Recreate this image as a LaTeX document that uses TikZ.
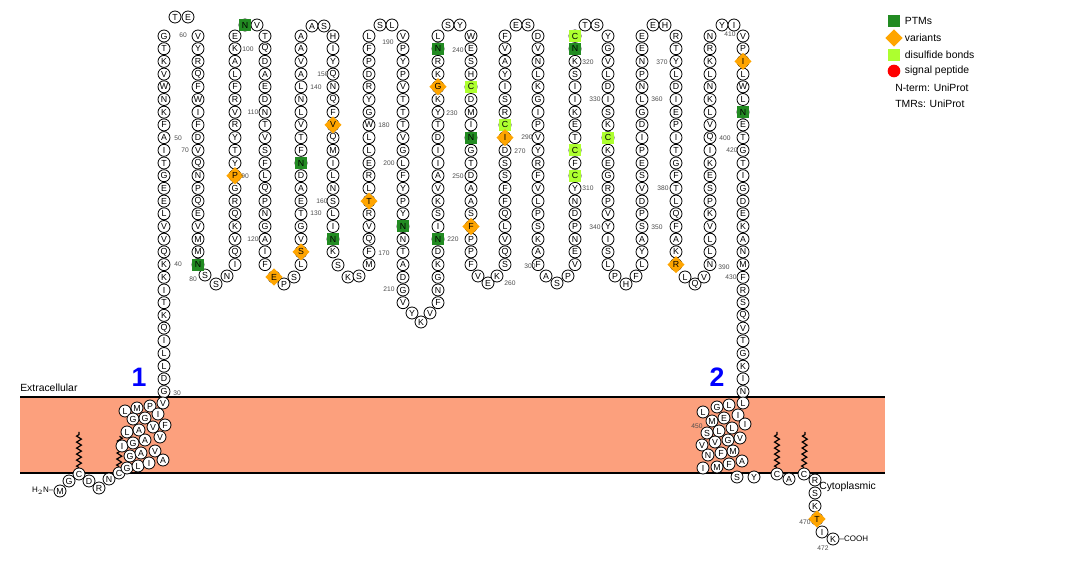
\documentclass[tikz,border=0pt]{standalone}
\usepackage{fontspec}
\setmainfont{Liberation Sans}
\usetikzlibrary{shapes.geometric,decorations.pathmorphing,positioning}
\pgfdeclarelayer{background1}
\pgfdeclarelayer{background2}
\pgfsetlayers{background2,background1,main}

% one column of residues, top to bottom
\newcommand{\rescol}[4]{%
	\foreach \a [count=\i from 0] in {#4} {\node[res] (#1-\i) at (#2,{36+(\i+#3)*12.7}) {\a};}}

\begin{document}
\begin{tikzpicture}[x=0.75pt,y=-0.75pt,
	res/.style={circle,draw,line width=0.6pt,fill=white,inner sep=0pt,minimum size=9pt,font=\fontsize{6.6}{6.6}\selectfont},
	ptm/.style={rectangle,fill=ptmcolor,inner sep=0pt,minimum size=9pt,font=\fontsize{6.6}{6.6}\selectfont},
	dis/.style={ptm,fill=discolor},
	var/.style={diamond,fill=varcolor,inner sep=0pt,minimum size=13pt,font=\fontsize{6.6}{6.6}\selectfont},
	num/.style={text=black!70,font=\fontsize{5}{5}\selectfont,inner sep=0pt},
	lbl/.style={font=\fontsize{7.8}{8}\selectfont,inner sep=0pt},
	palm/.style={line width=0.9pt,decorate,decoration={zigzag,segment length=4.5pt,amplitude=1.8pt}}]

	\definecolor{ptmcolor}{RGB}{34,139,34}
	\definecolor{varcolor}{RGB}{255,165,0}
	\definecolor{discolor}{RGB}{173,255,47}
	\definecolor{memcolor}{RGB}{252,160,125}
	\useasboundingbox (0,0) rectangle (1071,566);

	% membrane
	\begin{pgfonlayer}{background2}
		\fill[memcolor] (20,397) rectangle (885,473);
		\draw[line width=1.6pt] (20,397) -- (885,397);
		\draw[line width=1.6pt] (20,473) -- (885,473);
	\end{pgfonlayer}
	\node[lbl,anchor=south west] (extra) at (20,392) {Extracellular};
	\node[text=blue,font=\bfseries\fontsize{20}{20}\selectfont] (tm1) at (139,377) {1};
	\node[text=blue,font=\bfseries\fontsize{20}{20}\selectfont] (tm2) at (717,377) {2};

	% palmitoyl chains
	\coordinate (s1) at (79,432); \coordinate (s2) at (120,436);
	\coordinate (s3) at (777,432); \coordinate (s4) at (805,432);

	% columns
	\rescol{c1}{164}{0}{G,T,K,V,W,N,K,F,A,I,T,G,E,E,L,V,V,Q,K,K,I,T,K,Q,I,L,L,D,G}
	\rescol{c2}{198}{0}{V,Y,R,Q,F,W,I,F,D,V,Q,N,P,Q,E,V,M,M,N}
	\rescol{c3}{235}{0}{E,K,A,L,F,R,V,R,Y,T,Y,P,G,R,Q,K,V,Q,I}
	\rescol{c4}{265}{0}{T,Q,D,A,E,D,N,T,V,S,F,L,Q,P,N,G,A,I,F}
	\rescol{c5}{301}{0}{A,A,V,A,L,N,L,V,T,F,N,D,A,E,T,G,V,S,L}
	\rescol{c6}{333}{0}{H,I,Y,Q,N,Q,F,V,Q,M,I,L,N,S,L,I,N,K}
	\rescol{c7}{369}{0}{L,F,P,D,R,Y,G,W,L,L,E,R,L,T,R,V,Q,F,M}
	\rescol{c8}{403}{0}{V,P,Y,P,V,T,T,T,V,G,L,F,Y,P,Y,N,N,T,A,D,G,V}
	\rescol{c9}{438}{0}{L,N,R,K,G,K,Y,T,D,I,I,A,V,K,S,I,N,D,K,G,N,F}
	\rescol{c10}{471}{0}{W,E,S,H,C,D,M,I,N,G,T,D,A,A,S,F,P,P,F}
	\rescol{c11}{505}{0}{F,V,A,Y,I,S,R,C,I,D,S,S,F,F,Q,L,V,Q,S}
	\rescol{c12}{538}{0}{D,V,N,L,K,G,I,P,V,Y,R,F,V,L,P,S,K,A,F}
	\rescol{c13}{575}{0}{C,N,K,S,I,I,K,E,T,C,F,C,Y,N,D,P,N,E,V}
	\rescol{c14}{608}{0}{Y,G,V,L,D,I,S,K,C,K,E,G,R,P,V,Y,I,S,L}
	\rescol{c15}{642}{0}{E,E,N,P,N,L,G,D,I,P,E,S,V,D,P,S,A,Y,L}
	\rescol{c16}{676}{0}{R,T,Y,L,D,I,E,P,I,T,G,F,T,L,Q,F,A,K,R}
	\rescol{c17}{710}{0}{N,R,K,L,N,K,L,V,Q,I,K,E,S,P,K,V,L,L,N}
	\rescol{c18}{743}{0}{V,P,I,L,W,L,N,E,T,G,T,I,G,D,E,K,A,N,M,F,R,S,Q,V,T,G,K,I,N}

	% loop turns
	\foreach \a/\x/\y [count=\i] in {T/175/17,E/188/17,N/245/25,V/257/25,A/312/26,S/324/26,
		S/380/25,L/392/25,S/448/25,Y/460/25,E/516/25,S/528/25,T/585/25,S/597/25,
		E/653/25,H/665/25,Y/722/25,I/734/25,
		S/205/275,S/216/284,N/227/276,E/274/277,P/284/284,S/294/277,
		S/338/265,K/348/277,S/359/276,Y/412/313,K/421/322,V/430/313,
		V/478/276,E/488/283,K/497/276,A/546/276,S/557/283,P/568/276,
		P/615/276,H/626/284,F/636/276,L/685/277,Q/695/284,V/704/277}
		{\node[res] (t\i) at (\x,\y) {\a};}

	% helix 1 and N-terminus
	\foreach \a/\x/\y [count=\i] in {M/60/491,G/69/481,C/79/474,D/89/481,R/99/488,N/109/479,C/119/473,
		L/125/411,M/137/408,P/150/406,V/163/403,G/133/419,G/145/418,I/158/414,
		L/127/432,A/139/430,V/153/427,F/165/425,I/122/446,G/133/443,A/145/440,V/160/437,
		G/130/456,A/141/453,V/155/451,G/127/468,L/138/466,I/149/463,A/163/460}
		{\node[res] (h\i) at (\x,\y) {\a};}

	% helix 2 and C-terminus
	\foreach \a/\x/\y [count=\i] in {L/743/403,L/729/405,G/717/407,L/703/412,I/738/415,E/724/418,M/712/421,
		I/745/424,L/732/428,L/719/431,S/707/433,V/740/438,G/728/440,V/715/442,V/702/445,
		M/733/451,F/721/453,N/708/455,A/742/461,F/729/464,M/717/467,I/703/468,
		S/737/477,Y/754/477,C/777/474,A/789/479,C/804/474,R/815/480,S/815/493,K/815/506,
		T/817/519,I/822/532,K/833/539}
		{\node[res] (k\i) at (\x,\y) {\a};}

	\begin{pgfonlayer}{background1}
		\draw[palm] (h3.north) -- (s1);
		\draw[palm] (h7.north) -- (s2);
		\draw[palm] (k25.north) -- (s3);
		\draw[palm] (k27.north) -- (s4);
	\end{pgfonlayer}

	\node[lbl,anchor=east,font=\fontsize{6}{6}\selectfont] (nterm) at (h1.west) {H$_2$N--};
	\node[lbl,anchor=west,font=\fontsize{6}{6}\selectfont] (cterm) at (k33.east) {--COOH};
	\node[lbl,anchor=west] (cyto) at (819,487) {Cytoplasmic};

	% features
	\node[ptm] (p1) at (c2-18) {N};
	\node[ptm] (p2) at (t3) {N};
	\node[ptm] (p3) at (c5-10) {N};
	\node[ptm] (p4) at (c6-16) {N};
	\node[ptm] (p5) at (c8-15) {N};
	\node[ptm] (p6) at (c9-1) {N};
	\node[ptm] (p7) at (c9-16) {N};
	\node[ptm] (p8) at (c10-8) {N};
	\node[ptm] (p9) at (c13-1) {N};
	\node[ptm] (p10) at (c18-6) {N};
	\node[dis] (d1) at (c10-4) {C};
	\node[dis] (d2) at (c11-7) {C};
	\node[dis] (d3) at (c13-0) {C};
	\node[dis] (d4) at (c13-9) {C};
	\node[dis] (d5) at (c13-11) {C};
	\node[dis] (d6) at (c14-8) {C};
	\node[var] (v1) at (c3-11) {P};
	\node[var] (v2) at (t22) {E};
	\node[var] (v3) at (c5-17) {S};
	\node[var] (v4) at (c6-7) {V};
	\node[var] (v5) at (c7-13) {T};
	\node[var] (v6) at (c9-4) {G};
	\node[var] (v7) at (c10-15) {F};
	\node[var] (v8) at (c11-8) {I};
	\node[var] (v9) at (c16-18) {R};
	\node[var] (v10) at (c18-2) {I};
	\node[var] (v11) at (k31) {T};

	% numbers
	\foreach \n/\x/\y [count=\i] in {30/177/393,40/178/264,50/178/138,60/183/35,70/185/150,80/193/279,
		90/245/176,100/248/49,110/253/112,120/253/239,130/316/213,140/316/87,150/323/74,160/322/201,
		170/384/253,180/384/125,190/388/42,200/389/163,210/389/289,220/453/239,230/452/113,
		240/458/50,250/458/176,260/510/283,270/520/151,290/527/137,300/530/266,310/588/188,
		320/588/62,330/595/99,340/595/227,350/657/227,360/657/99,370/662/62,380/663/188,
		390/724/267,400/725/138,410/730/34,420/732/150,430/731/277,450/697/426,470/805/522,472/823/548}
		{\node[num] (n\i) at (\x,\y) {\n};}

	% legend
	\node[ptm,minimum size=9pt] (lp) at (894,21) {};
	\node[var,minimum size=13pt] (lv) at (894,38) {};
	\node[dis,minimum size=9pt] (ld) at (894,55) {};
	\node[circle,fill=red,inner sep=0pt,minimum size=9.5pt] (ls) at (894,71) {};
	\node[lbl,right=8pt of lp.center] (lpt) {PTMs};
	\node[lbl,right=8pt of lv.center] (lvt) {variants};
	\node[lbl,right=8pt of ld.center] (ldt) {disulfide bonds};
	\node[lbl,right=8pt of ls.center] (lst) {signal peptide};
	\node[lbl,anchor=west] (lnt) at (895,88) {N-term: UniProt};
	\node[lbl,anchor=west] (ltm) at (895,104) {TMRs: UniProt};

\end{tikzpicture}
\end{document}
